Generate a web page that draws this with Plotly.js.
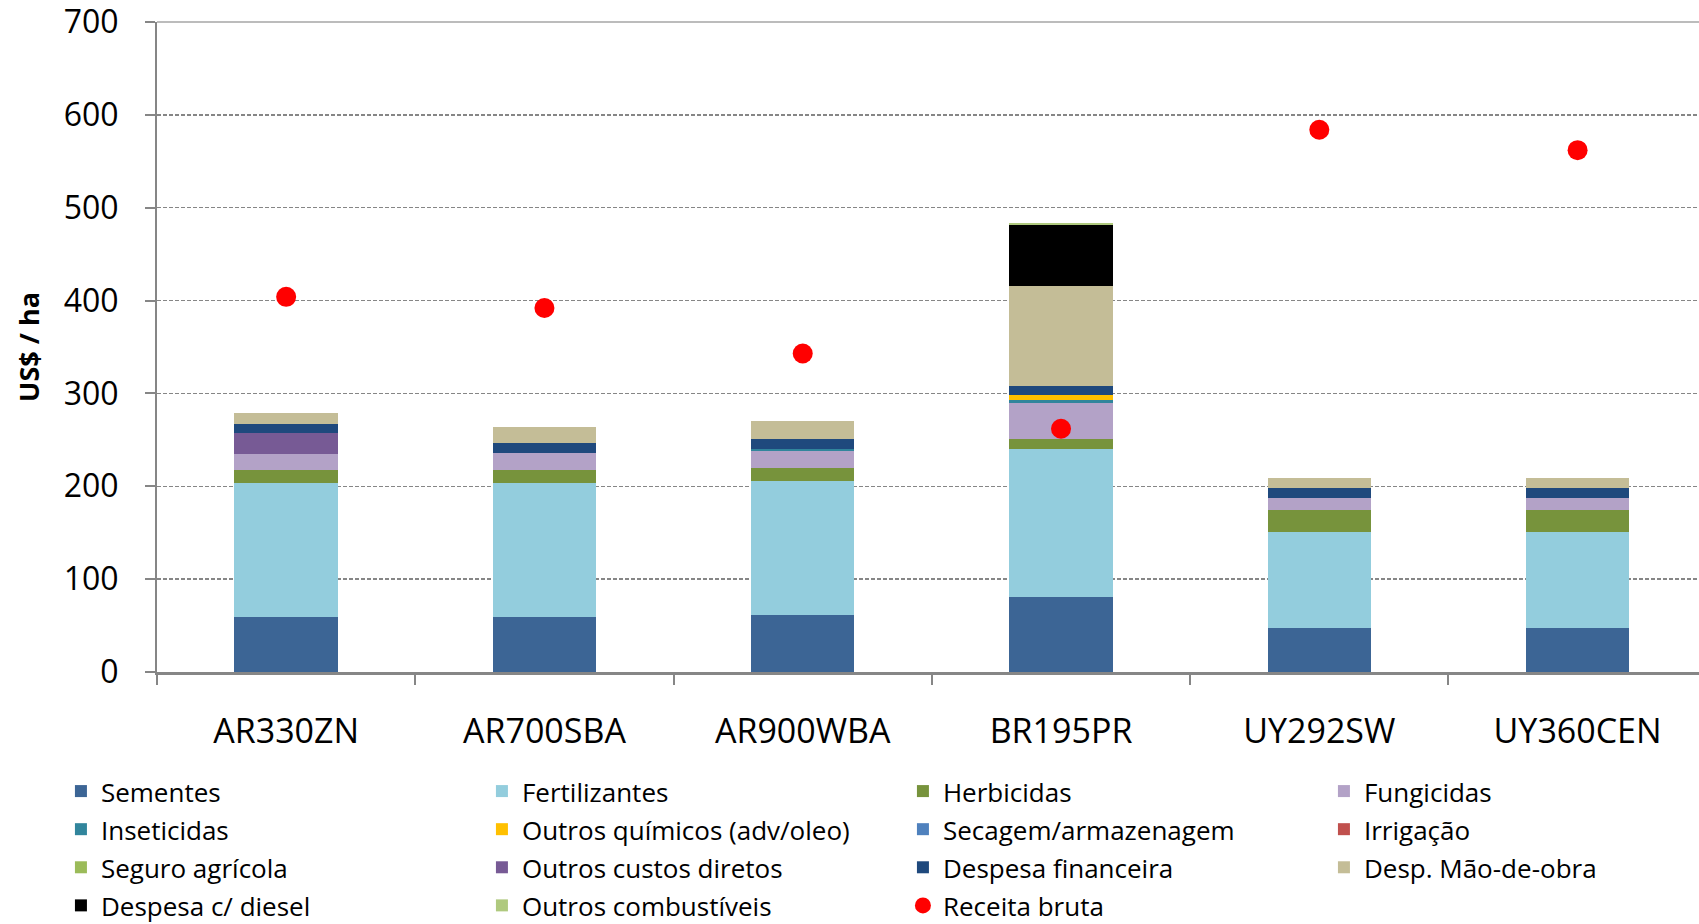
<!DOCTYPE html>
<html>
<head>
<meta charset="utf-8">
<script src="https://cdn.plot.ly/plotly-3.0.1.min.js"></script>
<style>
  html, body { margin: 0; padding: 0; background: #ffffff; }
  #chart { width: 1699px; height: 924px; }
</style>
</head>
<body>
<div id="chart"></div>
<script>
// ---- Data (US$ / ha) ----
const categories = ['AR330ZN', 'AR700SBA', 'AR900WBA', 'BR195PR', 'UY292SW', 'UY360CEN'];

const sementes          = [59,    59,    61,    81,    47,    47];
const fertilizantes     = [144.5, 144.5, 144.5, 159.5, 103.5, 103.5];
const herbicidas        = [14.5,  14.5,  14.5,  10.5,  23.5,  23.5];
const fungicidas        = [17,    18,    18,    39,    13,    13];
const inseticidas       = [0,     0,     2,     3,     0,     0];
const outrosQuimicos    = [0,     0,     0,     5,     0,     0];
const secagem           = [0,     0,     0,     0,     0,     0];
const irrigacao         = [0,     0,     0,     0,     0,     0];
const seguroAgricola    = [0,     0,     0,     0,     0,     0];
const outrosCustos      = [22,    0,     0,     0,     0,     0];
const despesaFinanceira = [10.5,  11,    10.5,  10.5,  11,    11];
const maoDeObra         = [11,    17,    20,    107,   11,    11];
const diesel            = [0,     0,     0,     66,    0,     0];
const outrosCombust     = [0,     0,     0,     2,     0,     0];
const receitaBruta      = [404,   392,   343,   262,   584,   562];

const yTickVals = [0, 100, 200, 300, 400, 500, 600, 700];

const seriesNames = [
  'Sementes', 'Fertilizantes', 'Herbicidas', 'Fungicidas',
  'Inseticidas', 'Outros químicos (adv/oleo)', 'Secagem/armazenagem', 'Irrigação',
  'Seguro agrícola', 'Outros custos diretos', 'Despesa financeira', 'Desp. Mão-de-obra',
  'Despesa c/ diesel', 'Outros combustíveis'
];
const seriesValues = [
  sementes, fertilizantes, herbicidas, fungicidas,
  inseticidas, outrosQuimicos, secagem, irrigacao,
  seguroAgricola, outrosCustos, despesaFinanceira, maoDeObra,
  diesel, outrosCombust
];
const receitaName = 'Receita bruta';
const yTitle = 'US$ / ha';

// ---- Styles ----
const seriesColors = [
  '#3C6595', '#93CDDD', '#77933C', '#B3A2C7',
  '#31859C', '#FFC000', '#4F81BD', '#C0504D',
  '#9BBB59', '#775A95', '#1F497D', '#C4BD97',
  '#000000', '#AFC97E'
];
const FONT = '"Open Sans", "Noto Sans", sans-serif';
const GRAY = '#868686';
const legendLabel = s => '<span style="font-size:26px">' + s + '</span>';

const traces = seriesNames.map((name, i) => ({
  type: 'bar',
  name: legendLabel(name),
  x: categories,
  y: seriesValues[i],
  width: 0.4,
  marker: { color: seriesColors[i], line: { width: 0 } },
  hoverinfo: 'x+y+name'
}));

traces.push({
  type: 'scatter',
  mode: 'markers',
  name: legendLabel(receitaName),
  x: categories,
  y: receitaBruta,
  marker: { color: '#FF0000', size: 20, symbol: 'circle', line: { width: 0 } }
});

const layout = {
  width: 1699,
  height: 924,
  margin: { l: 157, r: 0, t: 22, b: 252, pad: 0, autoexpand: false },
  paper_bgcolor: '#ffffff',
  plot_bgcolor: '#ffffff',
  barmode: 'stack',
  font: { family: FONT, color: '#000000' },
  showlegend: true,
  legend: {
    orientation: 'h',
    traceorder: 'normal',
    x: -0.0623,
    xanchor: 'left',
    y: -0.1462,
    yanchor: 'top',
    entrywidth: 376,
    entrywidthmode: 'pixels',
    font: { family: FONT, size: 27, color: '#000000' },
    bgcolor: 'rgba(0,0,0,0)'
  },
  xaxis: {
    type: 'category',
    range: [-0.5, 5.47],
    showgrid: false,
    zeroline: false,
    showline: true,
    linecolor: GRAY,
    linewidth: 3,
    ticks: 'outside',
    tickson: 'boundaries',
    ticklen: 10,
    tickwidth: 2,
    tickcolor: GRAY,
    ticklabelstandoff: 27,
    tickfont: { family: FONT, size: 34, color: '#000000' },
    fixedrange: true
  },
  yaxis: {
    range: [0, 700],
    tickmode: 'array',
    tickvals: yTickVals,
    ticktext: yTickVals.map(String),
    ticklabeloverflow: 'allow',
    showgrid: true,
    gridcolor: GRAY,
    gridwidth: 1.5,
    griddash: '4px,2px',
    zeroline: false,
    showline: true,
    linecolor: GRAY,
    linewidth: 2,
    ticks: 'outside',
    ticklen: 10,
    tickwidth: 2,
    tickcolor: GRAY,
    ticklabelstandoff: 20,
    tickfont: { family: FONT, size: 32, color: '#000000' },
    title: {
      text: yTitle,
      font: { family: FONT, size: 27, color: '#000000', weight: 'bold' },
      standoff: 16
    },
    fixedrange: true
  },
  shapes: [{
    type: 'line', xref: 'paper', yref: 'paper',
    x0: 0, x1: 1, y0: 1, y1: 1,
    line: { color: '#A6A6A6', width: 1.5 }
  }]
};

Plotly.newPlot('chart', traces, layout, { displayModeBar: false, staticPlot: true });
</script>
</body>
</html>
